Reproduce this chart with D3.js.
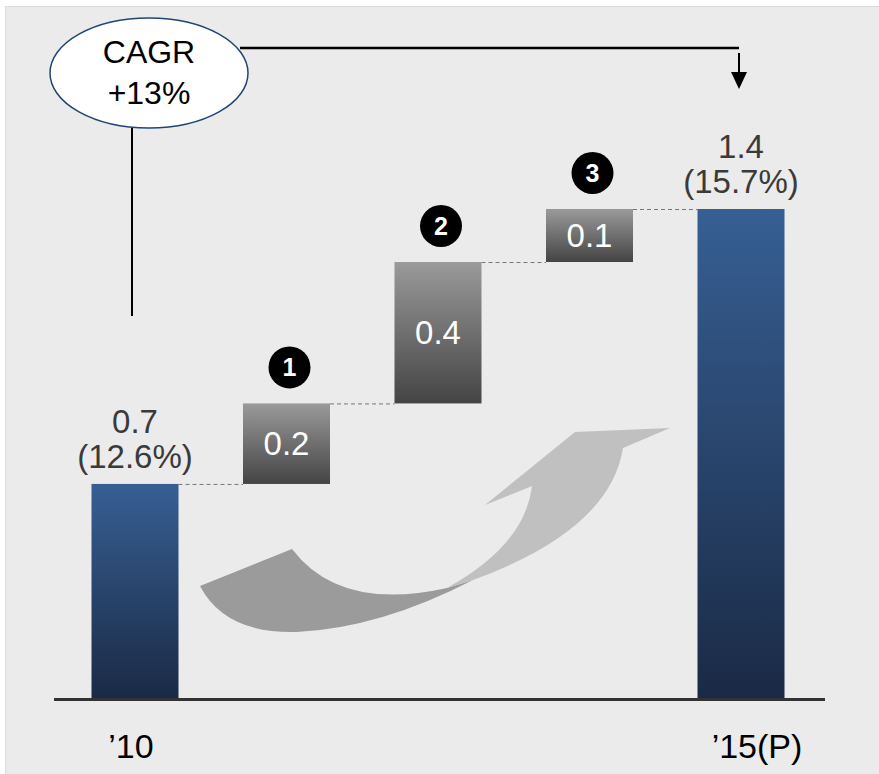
<!DOCTYPE html>
<html>
<head>
<meta charset="utf-8">
<script src="https://cdn.jsdelivr.net/npm/d3@7"></script>
<style>
  body { margin: 0; background: #fff; }
  svg text { font-family: "Liberation Sans", Arial, sans-serif; }
</style>
</head>
<body>
<div id="vis"></div>
<script>
const WIDTH = 879;
const HEIGHT = 774;

// data
const categories = ["'10", "s1", "s2", "s3", "'15(P)"];
const startValue = 0.7;
const steps = [0.205, 0.36, 0.135];
const stepNumbers = ["1", "2", "3"];
const endValue = 1.4;
const shares = ["(12.6%)", "(15.7%)"];
const axisLabels = ["'10", "'15(P)"];
const cagrText = ["CAGR", "+13%"];

const svg = d3.select("#vis")
  .append("svg")
    .attr("width", WIDTH)
    .attr("height", HEIGHT);

const defs = svg.append("defs");

const blue = defs.append("linearGradient")
  .attr("id", "blueGrad").attr("x1", 0).attr("y1", 0).attr("x2", 0).attr("y2", 1);
blue.append("stop").attr("offset", "0%").attr("stop-color", "#375f93");
blue.append("stop").attr("offset", "100%").attr("stop-color", "#1a2a45");

const grey = defs.append("linearGradient")
  .attr("id", "greyGrad").attr("x1", 0).attr("y1", 0).attr("x2", 0).attr("y2", 1);
grey.append("stop").attr("offset", "0%").attr("stop-color", "#9a9a9a");
grey.append("stop").attr("offset", "100%").attr("stop-color", "#444444");

// panel
svg.append("rect")
  .attr("x", 5.5).attr("y", 6.5)
  .attr("width", WIDTH).attr("height", HEIGHT)
  .attr("fill", "#ebebeb")
  .attr("stroke", "#dcdcdc");

// scales (value axis is broken, it doesn't start at zero)
const x = d3.scalePoint()
  .domain(categories)
  .range([135, 741]);
const BAR_W = 87;

const y = d3.scaleLinear()
  .domain([0.155, endValue])
  .range([698, 209]);

// waterfall boxes
let cum = startValue;
const boxes = steps.map((v, i) => {
  const b = {cat: categories[i + 1], from: cum, to: cum + v, value: v, num: stepNumbers[i]};
  cum += v;
  return b;
});

// dashed connectors
const tops = [startValue].concat(boxes.map(b => b.to));
svg.selectAll(".conn")
  .data(tops)
  .enter()
  .append("line")
    .attr("x1", (d, i) => x(categories[i]) + BAR_W / 2)
    .attr("x2", (d, i) => x(categories[i + 1]) - BAR_W / 2)
    .attr("y1", d => y(d) + 0.5)
    .attr("y2", d => y(d) + 0.5)
    .attr("stroke", "#777")
    .attr("stroke-width", 1)
    .attr("stroke-dasharray", "4,3");

// curved grey arrow (decoration)
svg.append("path")
  .attr("d", "M200,586 L292,549 Q340,612 447,588 L473,580 Q380,628 297,632 Q225,634 200,586 Z")
  .attr("fill", "#9b9b9b");
svg.append("path")
  .attr("d", "M447,588 Q525,545 532,486 L485,505 L575,432 L670,428 L623,448 Q610,530 473,580 Z")
  .attr("fill", "#c0c0c0");

// total bars
const totals = [
  {cat: categories[0], value: startValue, share: shares[0]},
  {cat: categories[4], value: endValue, share: shares[1]}
];
svg.selectAll(".total")
  .data(totals)
  .enter()
  .append("rect")
    .attr("x", d => x(d.cat) - BAR_W / 2)
    .attr("y", d => y(d.value))
    .attr("width", BAR_W)
    .attr("height", d => y.range()[0] - y(d.value))
    .attr("fill", "url(#blueGrad)");

svg.selectAll(".tv")
  .data(totals)
  .enter()
  .append("text")
    .attr("x", d => x(d.cat))
    .attr("y", d => y(d.value) - 51)
    .attr("text-anchor", "middle")
    .attr("font-size", "33px")
    .attr("fill", "#3a3a3a")
    .text(d => d3.format(".1f")(d.value));
svg.selectAll(".ts")
  .data(totals)
  .enter()
  .append("text")
    .attr("x", d => x(d.cat))
    .attr("y", d => y(d.value) - 16)
    .attr("text-anchor", "middle")
    .attr("font-size", "33px")
    .attr("fill", "#3a3a3a")
    .text(d => d.share);

// step boxes
svg.selectAll(".step")
  .data(boxes)
  .enter()
  .append("rect")
    .attr("x", d => x(d.cat) - BAR_W / 2)
    .attr("y", d => y(d.to))
    .attr("width", BAR_W)
    .attr("height", d => y(d.from) - y(d.to))
    .attr("fill", "url(#greyGrad)");

svg.selectAll(".sv")
  .data(boxes)
  .enter()
  .append("text")
    .attr("x", d => x(d.cat))
    .attr("y", d => (y(d.from) + y(d.to)) / 2 + 11)
    .attr("text-anchor", "middle")
    .attr("font-size", "33px")
    .attr("fill", "#ffffff")
    .text(d => d3.format(".1f")(d.value));

// numbered circles
svg.selectAll(".numc")
  .data(boxes)
  .enter()
  .append("circle")
    .attr("cx", d => x(d.cat) + 3)
    .attr("cy", d => y(d.to) - 36)
    .attr("r", 21)
    .attr("fill", "#000");
svg.selectAll(".numt")
  .data(boxes)
  .enter()
  .append("text")
    .attr("x", d => x(d.cat) + 3)
    .attr("y", d => y(d.to) - 27)
    .attr("text-anchor", "middle")
    .attr("font-size", "25px")
    .attr("font-weight", "bold")
    .attr("fill", "#fff")
    .text(d => d.num);

// baseline + category labels
svg.append("line")
  .attr("x1", 54).attr("x2", 825)
  .attr("y1", y.range()[0] + 1.5).attr("y2", y.range()[0] + 1.5)
  .attr("stroke", "#333")
  .attr("stroke-width", 3);

svg.selectAll(".cat")
  .data(axisLabels)
  .enter()
  .append("text")
    .attr("x", (d, i) => x(i === 0 ? categories[0] : categories[4]) + (i === 0 ? -4 : 16))
    .attr("y", 758)
    .attr("text-anchor", "middle")
    .attr("font-size", "34px")
    .attr("fill", "#000")
    .text(d => d.replace("'", "\u2019"));

// CAGR callout
svg.append("line")
  .attr("x1", 132).attr("x2", 132)
  .attr("y1", 128).attr("y2", 316)
  .attr("stroke", "#000").attr("stroke-width", 2);
svg.append("polyline")
  .attr("points", "240,48 739,48")
  .attr("fill", "none")
  .attr("stroke", "#000").attr("stroke-width", 2.5);
svg.append("line")
  .attr("x1", 739).attr("x2", 739)
  .attr("y1", 53).attr("y2", 74)
  .attr("stroke", "#000").attr("stroke-width", 2);
svg.append("path")
  .attr("d", "M731,72 L747,72 L739,89 Z")
  .attr("fill", "#000");

svg.append("ellipse")
  .attr("cx", 149).attr("cy", 73)
  .attr("rx", 99).attr("ry", 55)
  .attr("fill", "#fff")
  .attr("stroke", "#1f4675")
  .attr("stroke-width", 1.5);

svg.selectAll(".cagr")
  .data(cagrText)
  .enter()
  .append("text")
    .attr("x", 149)
    .attr("y", (d, i) => 63 + i * 41)
    .attr("text-anchor", "middle")
    .attr("font-size", "32px")
    .attr("fill", "#000")
    .text(d => d);
</script>
</body>
</html>
